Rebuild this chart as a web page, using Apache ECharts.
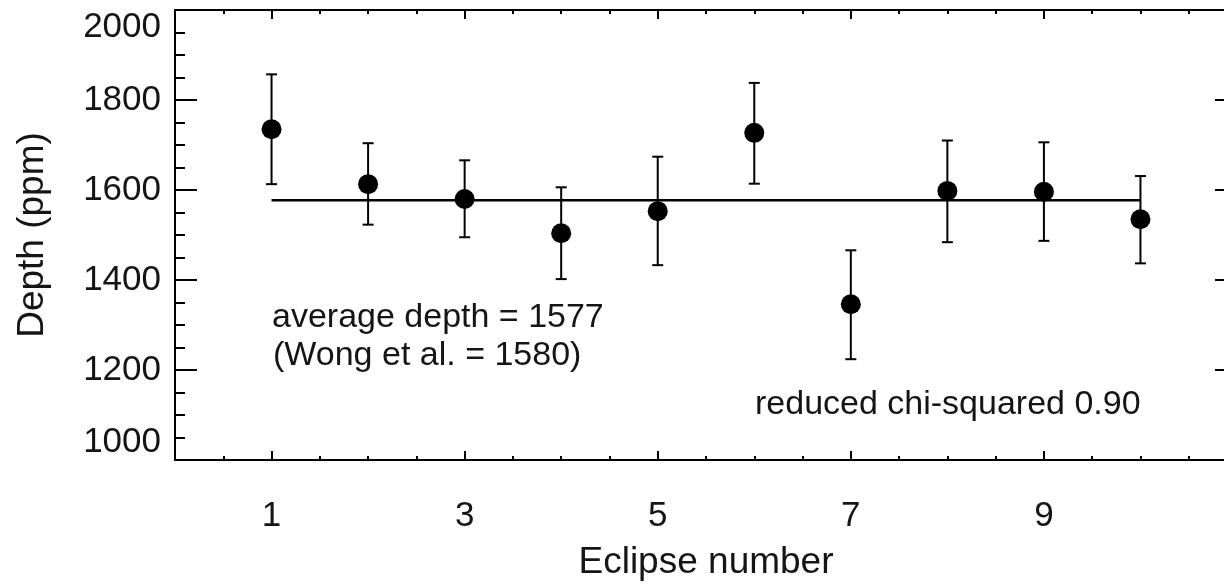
<!DOCTYPE html>
<html>
<head>
<meta charset="utf-8">
<script src="https://cdn.jsdelivr.net/npm/echarts@6/dist/echarts.min.js"></script>
<style>
html,body{margin:0;padding:0;background:#fff;}
#chart{width:1224px;height:586px;}
</style>
</head>
<body>
<div id="chart"></div>
<script>
// ---- data ----
const eclipseNumbers = [1, 2, 3, 4, 5, 6, 7, 8, 9, 10];
const depths = [1735, 1613, 1580, 1504, 1553, 1727, 1346, 1598, 1596, 1535];
const depthLow = [1613, 1523, 1495, 1402, 1433, 1614, 1224, 1484, 1487, 1437];
const depthHigh = [1857, 1704, 1666, 1606, 1674, 1838, 1466, 1710, 1706, 1631];
const averageDepth = 1577;
const averageSpan = [1, 10];
const xLabelValues = [1, 3, 5, 7, 9];
const xMajorTicks = [1, 3, 5, 7, 9, 11];
const xMinorTicks = [0.5, 1.5, 2, 2.5, 3.5, 4, 4.5, 5.5, 6, 6.5, 7.5, 8, 8.5, 9.5, 10, 10.5];
const yTicks = [1000, 1200, 1400, 1600, 1800, 2000];
const annotations = ['average depth = 1577', '(Wong et al. = 1580)', 'reduced chi-squared 0.90'];

const FONT = '"Liberation Sans", Arial, Helvetica, sans-serif';
const INK = '#151515';

const chart = echarts.init(document.getElementById('chart'), null, {renderer: 'canvas'});

const lineStyle = {color: '#000', width: 2};

function xAxisBase(extra) {
  return Object.assign({
    type: 'value', min: 0, max: 11, gridIndex: 0,
    splitLine: {show: false},
    axisLine: {show: false},
    axisLabel: {show: false},
    axisTick: {show: false}
  }, extra);
}

const option = {
  backgroundColor: '#fff',
  animation: false,
  grid: {left: 175, top: 10, width: 1062, height: 450, containLabel: false, outerBoundsMode: 'none'},
  xAxis: [
    xAxisBase({
      position: 'bottom',
      axisLine: {show: true, onZero: false, lineStyle: lineStyle},
      axisTick: {show: true, inside: true, length: 9, customValues: xMajorTicks, lineStyle: lineStyle},
      axisLabel: {show: true, customValues: xLabelValues, fontSize: 35, color: INK, fontFamily: FONT, margin: 39},
      name: 'Eclipse number', nameLocation: 'middle', nameGap: 84,
      nameTextStyle: {fontSize: 37, color: INK, fontFamily: FONT}
    }),
    xAxisBase({
      position: 'bottom',
      axisTick: {show: true, inside: true, length: 4, customValues: xMinorTicks, lineStyle: lineStyle}
    }),
    xAxisBase({
      position: 'top',
      axisLine: {show: true, onZero: false, lineStyle: lineStyle},
      axisTick: {show: true, inside: true, length: 9, customValues: xMajorTicks, lineStyle: lineStyle}
    }),
    xAxisBase({
      position: 'top',
      axisTick: {show: true, inside: true, length: 4, customValues: xMinorTicks, lineStyle: lineStyle}
    })
  ],
  yAxis: [
    {
      type: 'value', min: 1000, max: 2000, interval: 200, position: 'left',
      splitLine: {show: false},
      axisLine: {show: true, onZero: false, lineStyle: lineStyle},
      axisTick: {show: true, inside: true, length: 22, lineStyle: lineStyle},
      minorTick: {show: true, splitNumber: 4, length: 10, lineStyle: lineStyle},
      axisLabel: {
        show: true, fontSize: 35, color: INK, fontFamily: FONT, margin: 14,
        customValues: yTicks,
        formatter: v => String(v),
        verticalAlignMinLabel: 'bottom', verticalAlignMaxLabel: 'top'
      },
      name: 'Depth (ppm)', nameLocation: 'middle', nameGap: 124, nameRotate: 90,
      nameTextStyle: {fontSize: 37, color: INK, fontFamily: FONT}
    },
    {
      type: 'value', min: 1000, max: 2000, interval: 200, position: 'right',
      splitLine: {show: false},
      axisLine: {show: true, onZero: false, lineStyle: lineStyle},
      axisTick: {show: true, inside: true, length: 22, lineStyle: lineStyle},
      minorTick: {show: true, splitNumber: 4, length: 10, lineStyle: lineStyle},
      axisLabel: {show: false}
    }
  ],
  series: [
    {
      type: 'line', xAxisIndex: 0, yAxisIndex: 0,
      data: averageSpan.map(x => [x, averageDepth]),
      symbol: 'none', lineStyle: {color: '#000', width: 2.5}, z: 2
    },
    {
      type: 'custom', xAxisIndex: 0, yAxisIndex: 0,
      data: eclipseNumbers.map((x, i) => [x, depthLow[i], depthHigh[i]]),
      renderItem: function (params, api) {
        const x = api.value(0);
        const lo = api.coord([x, api.value(1)]);
        const hi = api.coord([x, api.value(2)]);
        const cap = 5.5;
        const st = {stroke: '#000', lineWidth: 2};
        return {
          type: 'group',
          children: [
            {type: 'line', shape: {x1: lo[0], y1: lo[1], x2: hi[0], y2: hi[1]}, style: st},
            {type: 'line', shape: {x1: lo[0] - cap, y1: lo[1], x2: lo[0] + cap, y2: lo[1]}, style: st},
            {type: 'line', shape: {x1: hi[0] - cap, y1: hi[1], x2: hi[0] + cap, y2: hi[1]}, style: st}
          ]
        };
      },
      z: 3
    },
    {
      type: 'scatter', xAxisIndex: 0, yAxisIndex: 0,
      data: eclipseNumbers.map((x, i) => [x, depths[i]]),
      symbol: 'circle', symbolSize: 20,
      itemStyle: {color: '#000', opacity: 1}, z: 4
    }
  ],
  graphic: [
    {type: 'text', x: 272, y: 318, style: {text: annotations[0], font: '34px ' + FONT, fill: INK, verticalAlign: 'middle'}},
    {type: 'text', x: 273, y: 356, style: {text: annotations[1], font: '34px ' + FONT, fill: INK, verticalAlign: 'middle'}},
    {type: 'text', x: 755, y: 405, style: {text: annotations[2], font: '34px ' + FONT, fill: INK, verticalAlign: 'middle'}}
  ]
};

chart.setOption(option);
</script>
</body>
</html>
